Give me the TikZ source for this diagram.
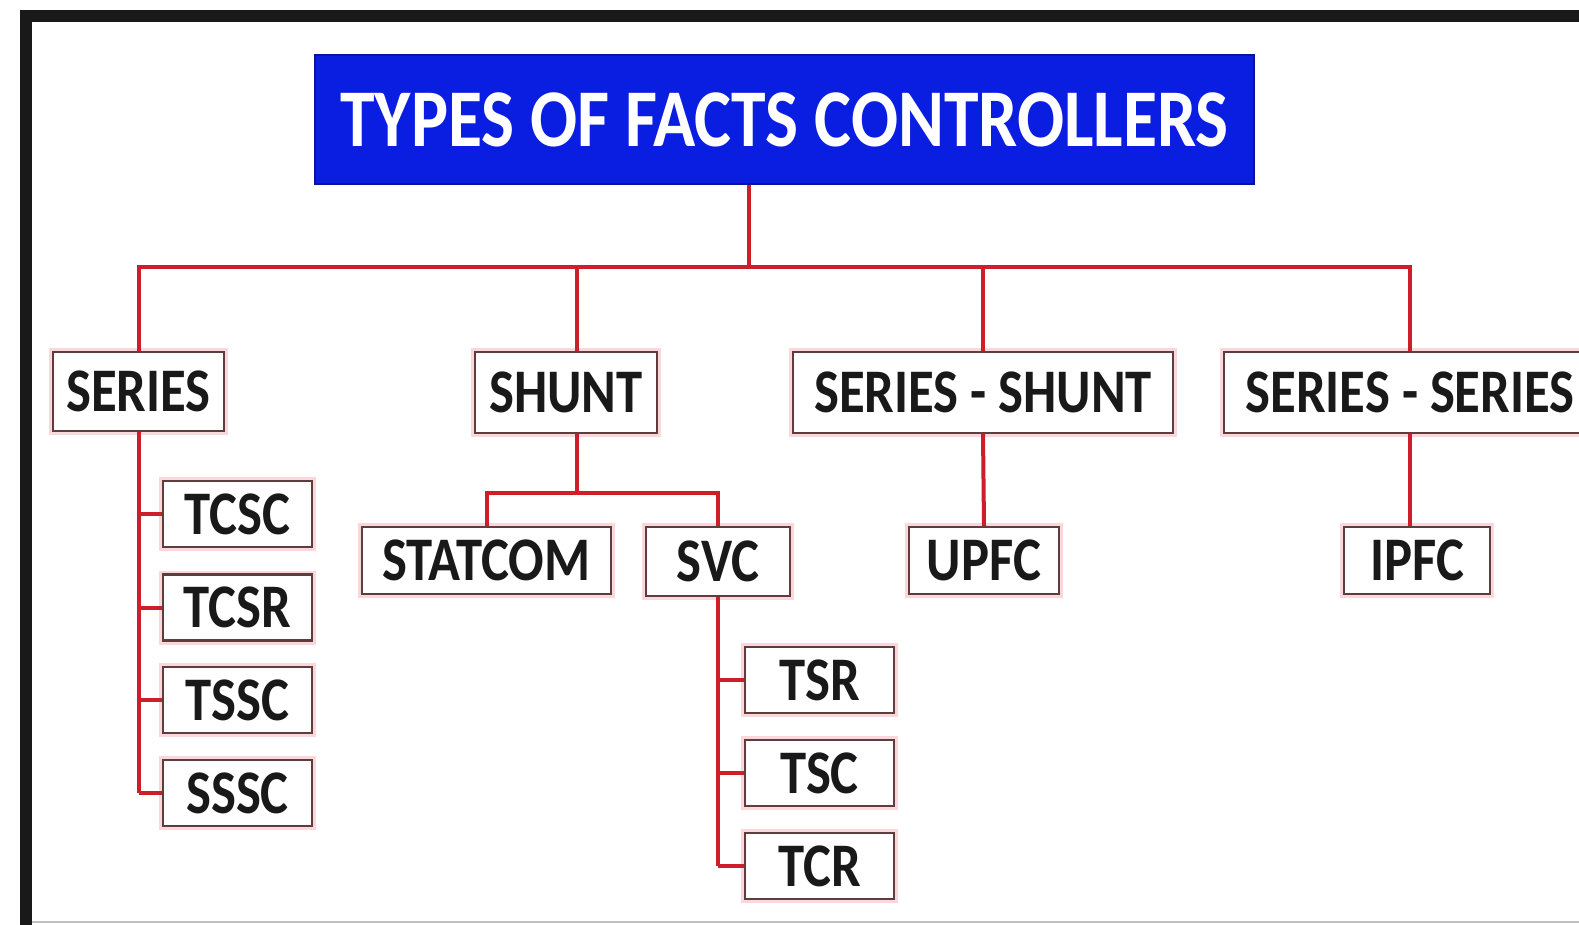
\documentclass[tikz,border=0pt]{standalone}
\usepackage{fontspec}
\setmainfont{Carlito}[FakeStretch=0.85]
\definecolor{titleblue}{RGB}{10,30,225}
\definecolor{linered}{RGB}{205,30,42}
\definecolor{boxedge}{RGB}{95,60,62}
\definecolor{halo}{RGB}{250,215,218}
\tikzset{
  conn/.style={draw=linered, line width=2pt},
  box/.style={draw=boxedge, line width=1.1pt, fill=white, inner sep=0pt,
    preaction={draw=halo, line width=4pt},
    font=\fontsize{31}{31}\selectfont\bfseries, text=black!90},
  titlebox/.style={fill=titleblue, draw=titleblue!70!black, line width=0.8pt, inner sep=0pt,
    font=\fontsize{41}{41}\selectfont\bfseries, text=white},
}
\begin{document}
\begin{tikzpicture}[x=0.5pt,y=-0.5pt]
\useasboundingbox (0,0) rectangle (1579,925);
\fill[white] (0,0) rectangle (1579,925);
% frame
\fill[black!90] (20,10) rectangle (1579,22);
\fill[black!90] (20,10) rectangle (32,925);
\draw[black!25, line width=1pt] (32,922) -- (1579,922);

% nodes
\node[titlebox, minimum width=469.5pt, minimum height=64.5pt] (title) at (784.5,119.5) {TYPES OF FACTS CONTROLLERS};
\coordinate (bus) at (0,267);
\coordinate (subbus) at (0,493);

\node[box, minimum width=85.5pt, minimum height=39.5pt] (series) at (138.5,391.5) {SERIES};
\node[box, minimum width=91pt, minimum height=40.5pt] (shunt) at (566,392.5) {SHUNT};
\node[box, minimum width=190pt, minimum height=40.5pt] (seshunt) at (983,392.5) {SERIES - SHUNT};
\node[box, minimum width=186pt, minimum height=40.5pt] (seseries) at (1410,392.5) {SERIES - SERIES};

\node[box, minimum width=74.5pt, minimum height=33pt] (tcsc) at (237.5,514) {TCSC};
\node[box, minimum width=74.5pt, minimum height=33pt] (tcsr) at (237.5,607.5) {TCSR};
\node[box, minimum width=74.5pt, minimum height=33pt] (tssc) at (237.5,700) {TSSC};
\node[box, minimum width=74.5pt, minimum height=33pt] (sssc) at (237.5,793) {SSSC};

\node[box, minimum width=124.5pt, minimum height=33.5pt] (statcom) at (486.5,560.5) {STATCOM};
\node[box, minimum width=72pt, minimum height=34.5pt] (svc) at (718,561.5) {SVC};
\node[box, minimum width=75pt, minimum height=33.5pt] (upfc) at (984,560.5) {UPFC};
\node[box, minimum width=73pt, minimum height=33.5pt] (ipfc) at (1417,560.5) {IPFC};

\node[box, minimum width=74.5pt, minimum height=33pt] (tsr) at (819.5,680) {TSR};
\node[box, minimum width=74.5pt, minimum height=33pt] (tsc) at (819.5,773) {TSC};
\node[box, minimum width=74.5pt, minimum height=33pt] (tcr) at (819.5,866) {TCR};

% connectors
\draw[conn] ([xshift=-18pt]title.south) -- ([xshift=-18pt]title.south |- bus);
\draw[conn] (series.north) -- (series.north |- bus) -- (seseries.north |- bus) -- (seseries.north);
\draw[conn] ([xshift=5.5pt]shunt.north) -- ([xshift=5.5pt]shunt.north |- bus);
\draw[conn] (seshunt.north) -- (seshunt.north |- bus);

\draw[conn] (series.south) -- (series.south |- sssc.west);
\foreach \n in {tcsc,tcsr,tssc,sssc}{
  \draw[conn] (\n.west) -- (\n.west -| series.south);
}

\draw[conn] ([xshift=5.5pt]shunt.south) -- ([xshift=5.5pt]shunt.south |- subbus);
\draw[conn] (statcom.north) -- (statcom.north |- subbus) -- (svc.north |- subbus) -- (svc.north);

\draw[conn] (svc.south) -- (svc.south |- tcr.west);
\foreach \n in {tsr,tsc,tcr}{
  \draw[conn] (\n.west) -- (\n.west -| svc.south);
}

\draw[conn] (seshunt.south) -- (upfc.north);
\draw[conn] (seseries.south) -- (seseries.south |- ipfc.north);
\end{tikzpicture}
\end{document}
